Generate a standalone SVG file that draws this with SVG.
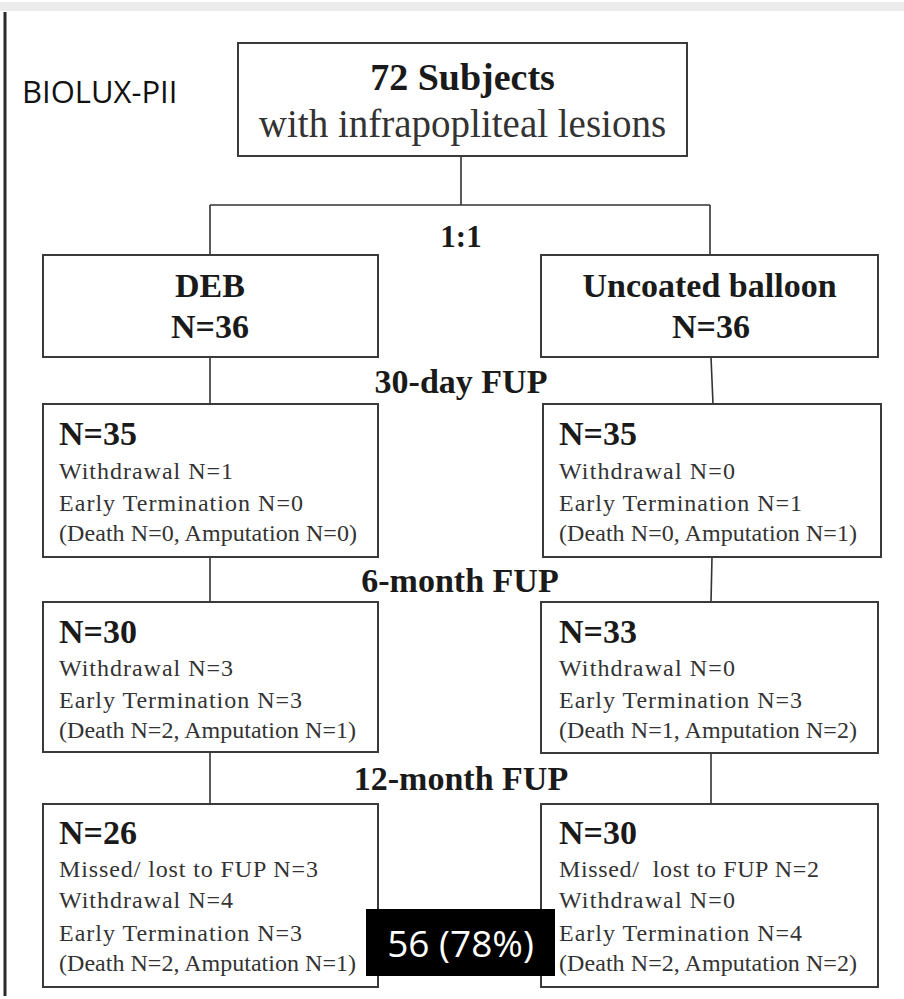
<svg xmlns="http://www.w3.org/2000/svg" width="904" height="999" viewBox="0 0 904 999">
<style>
.box{fill:#fff;stroke:#3a3a3a;stroke-width:2}
.ln{stroke:#333;stroke-width:1.6;fill:none}
.b{font-family:"Liberation Serif","Times New Roman",serif;font-weight:bold;fill:#1a1a1a}
.r{font-family:"Liberation Serif","Times New Roman",serif;fill:#333;font-size:24px}
.h{font-size:34px}
.c{text-anchor:middle}
.sans{font-family:"Open Sans","Noto Sans",sans-serif}
</style>
<rect x="0" y="0" width="904" height="999" fill="#fff"/>
<rect x="0" y="2" width="904" height="9" fill="#ececec"/>
<rect x="3.5" y="12" width="3" height="984" fill="#2a2a2a"/>
<text class="sans" x="22" y="103" font-size="31" fill="#111">BIOLUX-PII</text>

<g id="connectors">
<path class="ln" d="M461 156V205M210 205H710M210 205V255M710 205V255"/>
<path class="ln" d="M210 357V404M711 357L713 404"/>
<path class="ln" d="M210 557V602M712 557L711 602"/>
<path class="ln" d="M210 752V804M711 753V804"/>
</g>

<g id="labels">
<text class="b c" x="461" y="247" font-size="31">1:1</text>
<text class="b c h" x="461" y="393">30-day FUP</text>
<text class="b c h" x="460" y="592">6-month FUP</text>
<text class="b c h" x="461" y="790">12-month FUP</text>
</g>

<g id="top">
<rect class="box" x="238" y="43" width="449" height="113"/>
<text class="b c" x="462.5" y="90" font-size="38">72 Subjects</text>
<text class="r c" x="462.5" y="137" style="font-size:39px">with infrapopliteal lesions</text>
</g>

<g id="deb">
<rect class="box" x="43" y="255" width="335" height="102"/>
<text class="b c h" x="210" y="297">DEB</text>
<text class="b c h" x="210" y="338">N=36</text>
</g>

<g id="uncoated">
<rect class="box" x="541" y="255" width="337" height="102"/>
<text class="b c h" x="709.5" y="297">Uncoated balloon</text>
<text class="b c h" x="711" y="338">N=36</text>
</g>

<g id="deb30">
<rect class="box" x="43" y="404" width="335" height="153"/>
<text class="b h" x="59" y="445">N=35</text>
<text class="r" x="59" y="479" textLength="174" lengthAdjust="spacing">Withdrawal N=1</text>
<text class="r" x="59" y="511" textLength="244" lengthAdjust="spacing">Early Termination N=0</text>
<text class="r" x="59" y="541" textLength="298" lengthAdjust="spacing">(Death N=0, Amputation N=0)</text>
</g>

<g id="unc30">
<rect class="box" x="543" y="404" width="338" height="153"/>
<text class="b h" x="559" y="445">N=35</text>
<text class="r" x="559" y="479" textLength="176" lengthAdjust="spacing">Withdrawal N=0</text>
<text class="r" x="559" y="511" textLength="243" lengthAdjust="spacing">Early Termination N=1</text>
<text class="r" x="559" y="541" textLength="298" lengthAdjust="spacing">(Death N=0, Amputation N=1)</text>
</g>

<g id="deb6">
<rect class="box" x="43" y="602" width="335" height="150"/>
<text class="b h" x="59" y="643">N=30</text>
<text class="r" x="59" y="676" textLength="174" lengthAdjust="spacing">Withdrawal N=3</text>
<text class="r" x="59" y="708" textLength="243" lengthAdjust="spacing">Early Termination N=3</text>
<text class="r" x="59" y="738" textLength="297" lengthAdjust="spacing">(Death N=2, Amputation N=1)</text>
</g>

<g id="unc6">
<rect class="box" x="541" y="602" width="337" height="151"/>
<text class="b h" x="559" y="643">N=33</text>
<text class="r" x="559" y="676" textLength="176" lengthAdjust="spacing">Withdrawal N=0</text>
<text class="r" x="559" y="708" textLength="243" lengthAdjust="spacing">Early Termination N=3</text>
<text class="r" x="559" y="738" textLength="298" lengthAdjust="spacing">(Death N=1, Amputation N=2)</text>
</g>

<g id="deb12">
<rect class="box" x="43" y="804" width="335" height="183"/>
<text class="b h" x="59" y="844">N=26</text>
<text class="r" x="59" y="877" textLength="259" lengthAdjust="spacing">Missed/ lost to FUP N=3</text>
<text class="r" x="59" y="908" textLength="174" lengthAdjust="spacing">Withdrawal N=4</text>
<text class="r" x="59" y="941" textLength="243" lengthAdjust="spacing">Early Termination N=3</text>
<text class="r" x="59" y="971" textLength="297" lengthAdjust="spacing">(Death N=2, Amputation N=1)</text>
</g>

<g id="unc12">
<rect class="box" x="541" y="804" width="337" height="183"/>
<text class="b h" x="559" y="844">N=30</text>
<text class="r" x="559" y="877" xml:space="preserve" textLength="260" lengthAdjust="spacing">Missed/  lost to FUP N=2</text>
<text class="r" x="559" y="908" textLength="176" lengthAdjust="spacing">Withdrawal N=0</text>
<text class="r" x="559" y="941" textLength="243" lengthAdjust="spacing">Early Termination N=4</text>
<text class="r" x="559" y="971" textLength="298" lengthAdjust="spacing">(Death N=2, Amputation N=2)</text>
</g>

<g id="result">
<rect x="366" y="909" width="189" height="67" fill="#000"/>
<text class="sans c" x="460.5" y="957" font-size="37" fill="#fff">56 (78%)</text>
</g>
</svg>
